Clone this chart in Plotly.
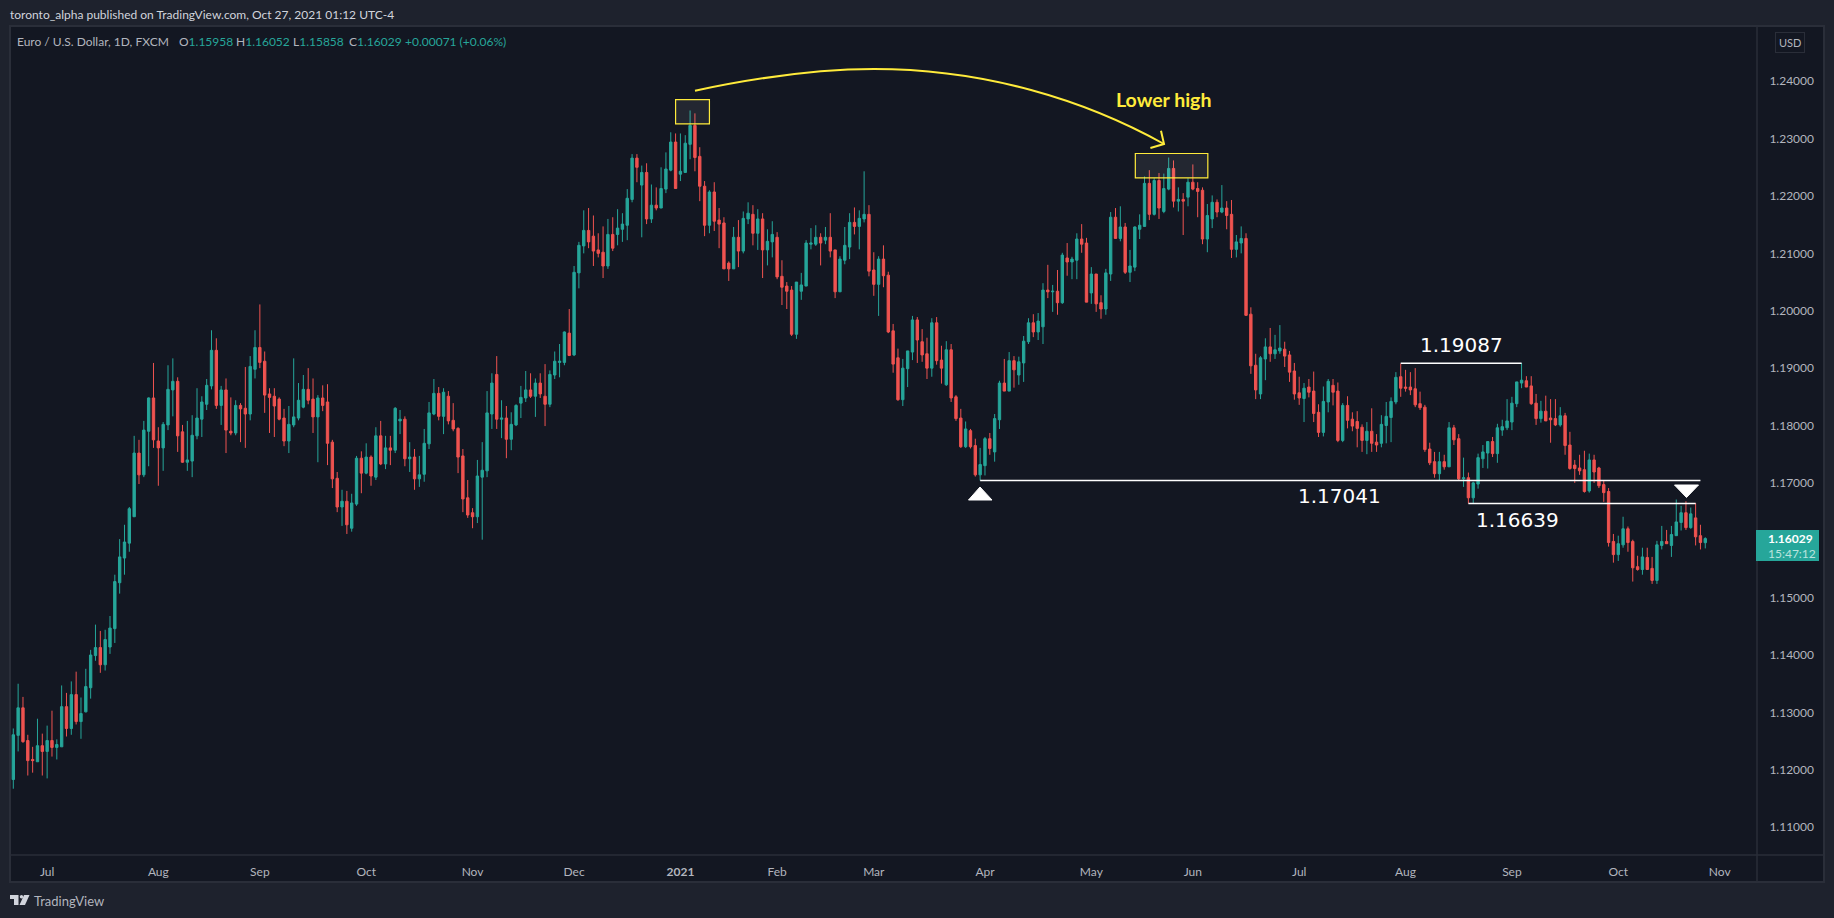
import plotly.graph_objects as go

opens = [
1.1183,1.1260,1.1308,1.1251,1.1218,1.1214,1.1242,1.1232,1.1251,1.1239,
1.1240,1.1310,1.1272,1.1331,1.1284,1.1301,1.1343,1.1399,1.1413,1.1383,
1.1414,1.1446,1.1526,1.1569,1.1595,1.1641,1.1752,1.1714,1.1790,1.1848,
1.1773,1.1761,1.1801,1.1862,1.1877,1.1789,1.1736,1.1738,1.1782,1.1811,
1.1837,1.1869,1.1931,1.1835,1.1862,1.1790,1.1787,1.1835,1.1830,1.1820,
1.1898,1.1936,1.1912,1.1855,1.1851,1.1846,1.1813,1.1773,1.1801,1.1813,
1.1832,1.1863,1.1846,1.1815,1.1848,1.1841,1.1771,1.1708,1.1658,1.1668,
1.1621,1.1663,1.1743,1.1717,1.1745,1.1710,1.1782,1.1733,1.1761,1.1757,
1.1808,1.1811,1.1742,1.1745,1.1707,1.1715,1.1768,1.1820,1.1856,1.1816,
1.1851,1.1809,1.1795,1.1747,1.1674,1.1648,1.1641,1.1710,1.1721,1.1820,
1.1889,1.1811,1.1813,1.1776,1.1801,1.1839,1.1848,1.1862,1.1851,1.1874,
1.1851,1.1837,1.1888,1.1910,1.1910,1.1961,1.1923,1.2066,1.2113,1.2140,
1.2130,1.2106,1.2102,1.2078,1.2133,1.2133,1.2142,1.2149,1.2194,1.2266,
1.2219,1.2241,1.2160,1.2184,1.2179,1.2212,1.2245,1.2294,1.2238,1.2241,
1.2290,1.2323,1.2269,1.2217,1.2149,1.2207,1.2158,1.2153,1.2083,1.2073,
1.2128,1.2104,1.2160,1.2168,1.2135,1.2160,1.2106,1.2120,1.2128,1.2060,
1.2043,1.2036,1.1959,1.2034,1.2043,1.2116,1.2116,1.2128,1.2123,1.2128,
1.2106,1.2033,1.2088,1.2111,1.2154,1.2147,1.2160,1.2168,1.2071,1.2046,
1.2090,1.2062,1.1965,1.1918,1.1845,1.1899,1.1928,1.1984,1.1946,1.1925,
1.1900,1.1979,1.1914,1.1871,1.1932,1.1850,1.1813,1.1763,1.1791,1.1765,
1.1714,1.1730,1.1777,1.1754,1.1810,1.1874,1.1860,1.1913,1.1888,1.1909,
1.1946,1.1979,1.1963,1.1972,1.2036,1.2033,1.2034,1.2014,1.2092,1.2085,
1.2088,1.2125,1.2118,1.2031,1.2064,1.2014,1.2003,1.2064,1.2163,1.2126,
1.2146,1.2067,1.2076,1.2142,1.2147,1.2222,1.2168,1.2227,1.2173,1.2212,
1.2248,1.2191,1.2194,1.2198,1.2224,1.2213,1.2210,1.2125,1.2160,1.2189,
1.2172,1.2179,1.2168,1.2107,1.2118,1.2126,1.1994,1.1905,1.1855,1.1916,
1.1937,1.1925,1.1930,1.1933,1.1923,1.1895,1.1857,1.1847,1.1867,1.1860,
1.1823,1.1788,1.1841,1.1870,1.1860,1.1774,1.1835,1.1811,1.1807,1.1797,
1.1774,1.1790,1.1771,1.1769,1.1800,1.1814,1.1841,1.1885,1.1867,1.1867,
1.1864,1.1838,1.1832,1.1759,1.1737,1.1716,1.1737,1.1728,1.1796,1.1777,
1.1707,1.1709,1.1674,1.1698,1.1742,1.1752,1.1772,1.1751,1.1792,1.1796,
1.1806,1.1838,1.1874,1.1878,1.1869,1.1839,1.1812,1.1825,1.1813,1.1812,
1.1801,1.1817,1.1766,1.1731,1.1726,1.1723,1.1686,1.1740,1.1726,1.1697,
1.1685,1.1598,1.1575,1.1592,1.1620,1.1598,1.1554,1.1549,1.1570,1.1551,
1.1530,1.1591,1.1598,1.1591,1.1608,1.1631,1.1648,1.1622,1.1639,1.1608,1.15958]

highs = [
1.1272,1.1350,1.1327,1.1261,1.1240,1.1289,1.1263,1.1277,1.1303,1.1253,
1.1347,1.1334,1.1354,1.1371,1.1326,1.1376,1.1409,1.1453,1.1442,1.1444,
1.1468,1.1540,1.1602,1.1627,1.1658,1.1782,1.1775,1.1808,1.1849,1.1909,
1.1797,1.1806,1.1905,1.1917,1.1884,1.1801,1.1808,1.1818,1.1865,1.1851,
1.1881,1.1966,1.1952,1.1869,1.1882,1.1849,1.1844,1.1839,1.1902,1.1921,
1.1966,1.2011,1.1929,1.1865,1.1865,1.1849,1.1829,1.1834,1.1917,1.1874,
1.1888,1.1900,1.1882,1.1853,1.1870,1.1872,1.1775,1.1719,1.1688,1.1686,
1.1681,1.1747,1.1755,1.1769,1.1748,1.1797,1.1808,1.1782,1.1782,1.1832,
1.1827,1.1816,1.1771,1.1759,1.1747,1.1794,1.1841,1.1881,1.1867,1.1865,
1.1860,1.1839,1.1797,1.1759,1.1705,1.1656,1.1740,1.1771,1.1860,1.1891,
1.1921,1.1844,1.1834,1.1823,1.1837,1.1869,1.1895,1.1891,1.1882,1.1891,
1.1907,1.1896,1.1929,1.1942,1.1964,1.2003,1.2078,1.2120,1.2175,1.2179,
1.2166,1.2135,1.2147,1.2160,1.2163,1.2177,1.2170,1.2212,1.2273,1.2273,
1.2253,1.2257,1.2220,1.2215,1.2250,1.2276,1.2311,1.2309,1.2309,1.2306,
1.2349,1.2344,1.2285,1.2226,1.2210,1.2224,1.2179,1.2163,1.2086,1.2146,
1.2158,1.2173,1.2189,1.2184,1.2177,1.2170,1.2142,1.2156,1.2137,1.2088,
1.2050,1.2043,1.2050,1.2066,1.2123,1.2144,1.2149,1.2135,1.2146,1.2170,
1.2106,1.2095,1.2146,1.2170,1.2180,1.2175,1.2243,1.2184,1.2102,1.2095,
1.2114,1.2068,1.1977,1.1934,1.1916,1.1930,1.1991,1.1989,1.1968,1.1953,
1.1987,1.1989,1.1939,1.1947,1.1942,1.1853,1.1829,1.1807,1.1794,1.1777,
1.1761,1.1780,1.1787,1.1820,1.1878,1.1916,1.1928,1.1921,1.1920,1.1956,
1.1987,1.1994,1.1996,1.2048,1.2080,1.2045,1.2071,1.2101,1.2118,1.2094,
1.2135,1.2151,1.2127,1.2076,1.2064,1.2027,1.2073,1.2172,1.2179,1.2182,
1.2153,1.2106,1.2147,1.2168,1.2234,1.2245,1.2231,1.2240,1.2239,1.2267,
1.2262,1.2215,1.2205,1.2231,1.2255,1.2224,1.2215,1.2186,1.2201,1.2194,
1.2219,1.2191,1.2193,1.2132,1.2147,1.2135,1.2006,1.1925,1.1921,1.1952,
1.1970,1.1958,1.1975,1.1946,1.1930,1.1909,1.1885,1.1874,1.1881,1.1894,
1.1837,1.1868,1.1881,1.1881,1.1875,1.1839,1.1851,1.1823,1.1825,1.1802,
1.1806,1.1830,1.1785,1.1818,1.1841,1.1849,1.1893,1.1908,1.1897,1.1893,
1.1900,1.1859,1.1836,1.1770,1.1754,1.1754,1.1749,1.1806,1.1801,1.1785,
1.1744,1.1718,1.1702,1.1751,1.1766,1.1773,1.1780,1.1803,1.1810,1.1846,
1.1850,1.1876,1.1909,1.1886,1.1886,1.1855,1.1843,1.1852,1.1846,1.1846,
1.1832,1.1822,1.1789,1.1740,1.1749,1.1756,1.1751,1.1749,1.1728,1.1705,
1.1691,1.1611,1.1608,1.1641,1.1624,1.1601,1.1573,1.1587,1.1587,1.1571,
1.1599,1.1625,1.1618,1.1625,1.1671,1.1660,1.1668,1.1657,1.1665,1.1627,1.16052]

lows = [
1.1167,1.1232,1.1247,1.1190,1.1195,1.1214,1.1190,1.1185,1.1223,1.1218,
1.1240,1.1258,1.1261,1.1279,1.1254,1.1300,1.1324,1.1390,1.1369,1.1373,
1.1402,1.1421,1.1507,1.1540,1.1580,1.1641,1.1698,1.1710,1.1729,1.1761,
1.1695,1.1721,1.1792,1.1816,1.1754,1.1735,1.1721,1.1710,1.1776,1.1780,
1.1827,1.1863,1.1829,1.1801,1.1752,1.1783,1.1783,1.1771,1.1761,1.1809,
1.1882,1.1900,1.1822,1.1787,1.1780,1.1809,1.1764,1.1752,1.1797,1.1809,
1.1830,1.1837,1.1787,1.1736,1.1825,1.1731,1.1691,1.1649,1.1625,1.1611,
1.1615,1.1660,1.1682,1.1715,1.1695,1.1705,1.1731,1.1724,1.1731,1.1752,
1.1785,1.1729,1.1719,1.1688,1.1693,1.1702,1.1759,1.1818,1.1809,1.1785,
1.1802,1.1790,1.1717,1.1649,1.1639,1.1621,1.1630,1.1601,1.1710,1.1794,
1.1794,1.1778,1.1743,1.1757,1.1799,1.1813,1.1841,1.1848,1.1815,1.1848,
1.1799,1.1832,1.1881,1.1884,1.1905,1.1921,1.1921,1.2039,1.2100,1.2109,
1.2078,1.2093,1.2057,1.2073,1.2104,1.2114,1.2120,1.2123,1.2189,1.2224,
1.2128,1.2151,1.2153,1.2175,1.2179,1.2205,1.2243,1.2213,1.2226,1.2240,
1.2264,1.2243,1.2191,1.2130,1.2135,1.2139,1.2109,1.2073,1.2052,1.2073,
1.2076,1.2100,1.2151,1.2114,1.2106,1.2057,1.2079,1.2093,1.2055,1.2010,
1.2003,1.1956,1.1951,1.2019,1.2043,1.2107,1.2113,1.2079,1.2116,1.2093,
1.2022,1.2033,1.2081,1.2090,1.2133,1.2107,1.2154,1.2060,1.2026,1.1991,
1.2041,1.1961,1.1892,1.1843,1.1834,1.1867,1.1914,1.1909,1.1911,1.1881,
1.1885,1.1906,1.1873,1.1869,1.1841,1.1808,1.1761,1.1761,1.1760,1.1711,
1.1704,1.1713,1.1749,1.1737,1.1794,1.1860,1.1860,1.1866,1.1871,1.1876,
1.1942,1.1954,1.1949,1.1942,1.2022,1.1998,1.1993,1.2012,1.2061,1.2055,
1.2055,1.2101,1.2015,1.2012,1.1998,1.1986,1.1993,1.2052,1.2126,1.2121,
1.2064,1.2050,1.2069,1.2125,1.2147,1.2158,1.2166,1.2160,1.2170,1.2210,
1.2180,1.2173,1.2132,1.2182,1.2210,1.2163,1.2116,1.2102,1.2144,1.2163,
1.2170,1.2142,1.2092,1.2093,1.2100,1.1991,1.1890,1.1846,1.1846,1.1879,
1.1911,1.1916,1.1925,1.1902,1.1876,1.1845,1.1836,1.1806,1.1849,1.1806,
1.1780,1.1781,1.1823,1.1835,1.1771,1.1771,1.1795,1.1790,1.1762,1.1754,
1.1750,1.1754,1.1754,1.1762,1.1769,1.1771,1.1837,1.1850,1.1859,1.1853,
1.1832,1.1827,1.1754,1.1731,1.1709,1.1705,1.1723,1.1728,1.1766,1.1705,
1.1693,1.1664,1.1664,1.1690,1.1726,1.1725,1.1745,1.1735,1.1782,1.1792,
1.1792,1.1832,1.1865,1.1867,1.1836,1.1801,1.1805,1.1808,1.1770,1.1799,
1.1798,1.1749,1.1723,1.1700,1.1714,1.1683,1.1683,1.1700,1.1691,1.1667,
1.1589,1.1561,1.1564,1.1587,1.1580,1.1528,1.1547,1.1540,1.1549,1.1524,
1.1524,1.1584,1.1594,1.1571,1.1608,1.1617,1.1618,1.1620,1.1591,1.1584,1.15858]

closes = [
1.1261,1.1308,1.1249,1.1216,1.1216,1.1242,1.1232,1.1251,1.1239,1.1244,
1.1310,1.1272,1.1331,1.1284,1.1298,1.1345,1.1400,1.1413,1.1383,1.1427,
1.1447,1.1528,1.1571,1.1597,1.1655,1.1752,1.1714,1.1792,1.1848,1.1775,
1.1761,1.1802,1.1863,1.1877,1.1782,1.1736,1.1740,1.1783,1.1813,1.1841,
1.1870,1.1931,1.1835,1.1862,1.1792,1.1787,1.1835,1.1829,1.1820,1.1903,
1.1936,1.1910,1.1853,1.1849,1.1834,1.1811,1.1773,1.1802,1.1815,1.1844,
1.1863,1.1844,1.1815,1.1848,1.1835,1.1769,1.1707,1.1658,1.1668,1.1627,
1.1665,1.1743,1.1717,1.1745,1.1712,1.1782,1.1733,1.1761,1.1757,1.1830,
1.1811,1.1742,1.1745,1.1707,1.1714,1.1769,1.1822,1.1856,1.1816,1.1858,
1.1808,1.1794,1.1745,1.1672,1.1644,1.1641,1.1712,1.1722,1.1822,1.1874,
1.1811,1.1813,1.1776,1.1802,1.1835,1.1849,1.1862,1.1851,1.1874,1.1855,
1.1837,1.1889,1.1912,1.1912,1.1963,1.1922,1.2067,1.2114,1.2140,1.2120,
1.2104,1.2100,1.2078,1.2133,1.2109,1.2144,1.2151,1.2196,1.2266,1.2250,
1.2241,1.2160,1.2184,1.2179,1.2213,1.2247,1.2294,1.2213,1.2243,1.2292,
1.2323,1.2267,1.2217,1.2149,1.2207,1.2156,1.2151,1.2073,1.2073,1.2128,
1.2104,1.2161,1.2170,1.2135,1.2160,1.2106,1.2121,1.2133,1.2059,1.2041,
1.2034,1.1959,1.2050,1.2045,1.2118,1.2118,1.2128,1.2118,1.2128,1.2104,
1.2033,1.2090,1.2114,1.2154,1.2147,1.2161,1.2168,1.2069,1.2046,1.2090,
1.2061,1.1963,1.1907,1.1845,1.1900,1.1930,1.1984,1.1949,1.1923,1.1900,
1.1979,1.1913,1.1900,1.1932,1.1848,1.1812,1.1763,1.1794,1.1763,1.1714,
1.1732,1.1777,1.1760,1.1812,1.1874,1.1860,1.1913,1.1897,1.1911,1.1947,
1.1979,1.1963,1.1982,1.2036,1.2033,1.2034,1.2014,1.2097,1.2085,1.2090,
1.2125,1.2116,1.2015,1.2064,1.2012,1.2003,1.2066,1.2163,1.2126,1.2146,
1.2067,1.2078,1.2146,1.2149,1.2222,1.2168,1.2227,1.2179,1.2213,1.2248,
1.2191,1.2194,1.2191,1.2224,1.2212,1.2208,1.2125,1.2166,1.2189,1.2172,
1.2179,1.2166,1.2107,1.2120,1.2126,1.1992,1.1904,1.1862,1.1918,1.1937,
1.1925,1.1932,1.1935,1.1921,1.1893,1.1855,1.1848,1.1865,1.1858,1.1821,
1.1788,1.1842,1.1877,1.1858,1.1774,1.1835,1.1809,1.1799,1.1795,1.1774,
1.1790,1.1769,1.1766,1.1802,1.1816,1.1842,1.1884,1.1865,1.1865,1.1862,
1.1836,1.1831,1.1758,1.1735,1.1716,1.1737,1.1728,1.1796,1.1775,1.1707,
1.1709,1.1674,1.1700,1.1744,1.1754,1.1772,1.1751,1.1796,1.1798,1.1808,
1.1839,1.1876,1.1879,1.1867,1.1838,1.1812,1.1825,1.1808,1.1810,1.1801,
1.1817,1.1765,1.1725,1.1725,1.1721,1.1685,1.1740,1.1719,1.1695,1.1683,
1.1596,1.1575,1.1594,1.1620,1.1596,1.1552,1.1549,1.1571,1.1549,1.1530,
1.1592,1.1598,1.1594,1.1610,1.1632,1.1648,1.1622,1.1646,1.1606,1.1596,1.16029]

sessions = list(range(len(closes)))

month_labels = ["Jul","Aug","Sep","Oct","Nov","Dec","<b>2021</b>","Feb","Mar","Apr","May","Jun","Jul","Aug","Sep","Oct","Nov"]
month_sessions = [7,30,51,73,95,116,138,158,178,201,223,244,266,288,310,332,353]
price_ticks = [1.11,1.12,1.13,1.14,1.15,1.16,1.17,1.18,1.19,1.20,1.21,1.22,1.23,1.24]

W, H = 1834, 918
L, R, T, B = 11, 1757, 27, 855
UI = "Lato"
GREEN, RED, YELLOW = "#26a69a", "#ef5350", "#ffeb3b"
OUTER, PANE, EDGE = "#1e222d", "#131722", "#2a2e39"

def px(x): return (x - L) / (R - L)
def py(y): return (B - y) / (B - T)

fig = go.Figure(go.Candlestick(
    x=sessions, open=opens, high=highs, low=lows, close=closes,
    increasing=dict(line=dict(color=GREEN, width=1), fillcolor=GREEN),
    decreasing=dict(line=dict(color=RED, width=1), fillcolor=RED),
    whiskerwidth=0, hoverinfo="skip", showlegend=False,
))

shapes = []
# frame around the chart, axis separators
shapes.append(dict(type="rect", xref="paper", yref="paper", layer="below",
                   x0=px(10), x1=px(1824), y0=py(26), y1=py(882),
                   fillcolor=PANE, line=dict(color=EDGE, width=2)))
for a, b, c, d in [(R, 26, R, 882), (10, B, 1824, B)]:
    shapes.append(dict(type="line", xref="paper", yref="paper",
                       x0=px(a), y0=py(b), x1=px(c), y1=py(d),
                       line=dict(color=EDGE, width=1.5)))

# yellow boxes (session, price)
for s0, s1, p0, p1 in [(137, 144, 1.23255, 1.2368), (232.1, 247.1, 1.22315, 1.2274)]:
    shapes.append(dict(type="rect", x0=s0, x1=s1, y0=p0, y1=p1,
                       fillcolor="rgba(255,255,255,0.07)", line=dict(color=YELLOW, width=1.2)))

# white level lines (session, session, price)
for s0, s1, p in [(200, 349, 1.17041), (301, 348, 1.16639), (287, 312, 1.19087)]:
    shapes.append(dict(type="line", x0=s0, x1=s1, y0=p, y1=p, line=dict(color="#ffffff", width=1.5)))

# arc + arrow head
arc = (f"M {px(695)} {py(90.7)} C {px(750)} {py(79)} {px(815)} {py(69)} {px(874)} {py(69)} "
       f"C {px(985)} {py(69)} {px(1085)} {py(100)} {px(1164)} {py(144)}")
head = f"M {px(1161)} {py(130.7)} L {px(1164)} {py(144)} L {px(1150.4)} {py(148)}"
for path in (arc, head):
    shapes.append(dict(type="path", xref="paper", yref="paper", path=path,
                       line=dict(color=YELLOW, width=2)))

# white triangles
up = f"M {px(968.5)} {py(500)} L {px(980)} {py(487)} L {px(992)} {py(500)} Z"
down = f"M {px(1674.5)} {py(485)} L {px(1698.5)} {py(485)} L {px(1686.5)} {py(497.5)} Z"
for path in (up, down):
    shapes.append(dict(type="path", xref="paper", yref="paper", path=path,
                       fillcolor="#ffffff", line=dict(color="#ffffff", width=1)))

# last price tag
shapes.append(dict(type="rect", xref="paper", yref="paper",
                   x0=px(1756), x1=px(1819), y0=py(530), y1=py(561),
                   fillcolor=GREEN, line=dict(width=0)))

# TradingView logo
logo = [
    f"M {px(10)} {py(895)} L {px(18.5)} {py(895)} L {px(18.5)} {py(905)} L {px(14)} {py(905)} L {px(14)} {py(899)} L {px(10)} {py(899)} Z",
    f"M {px(24)} {py(895)} L {px(29.5)} {py(895)} L {px(25)} {py(905)} L {px(19.5)} {py(905)} Z",
]
for path in logo:
    shapes.append(dict(type="path", xref="paper", yref="paper", path=path,
                       fillcolor="#d1d4dc", line=dict(width=0)))
shapes.append(dict(type="circle", xref="paper", yref="paper",
                   x0=px(19.8), x1=px(23.2), y0=py(895), y1=py(898.4),
                   fillcolor="#d1d4dc", line=dict(width=0)))

def note(x, y, text, size=12, color="#d1d4dc", anchor="left", family=UI, **kw):
    return dict(xref="paper", yref="paper", x=px(x), y=py(y), text=text, showarrow=False,
                xanchor=anchor, yanchor="middle", font=dict(family=family, size=size, color=color),
                align="left", **kw)

def teal(t): return f'<span style="color:{GREEN}">{t}</span>'

legend_chunks = [
    (15, "Euro / U.S. Dollar, 1D, FXCM"),
    (177, "O" + teal("1.15958")),
    (234, "H" + teal("1.16052")),
    (291, "L" + teal("1.15858")),
    (347, "C" + teal("1.16029")),
    (403, teal("+0.00071 (+0.06%)")),
]

annotations = [
    note(8, 15, "toronto_alpha published on TradingView.com, Oct 27, 2021 01:12 UTC-4", 12, "#d1d4dc"),
    note(32, 901, "TradingView", 13, "#b2b5be"),
    note(1790, 43, "USD", 11, "#b2b5be", anchor="center", bordercolor=EDGE, borderpad=3, borderwidth=1),
    note(1766, 538, "<b>1.16029</b>", 12, "#ffffff"),
    note(1766, 553, "15:47:12", 12, "#b9e3de"),
    note(1163, 100, "<b>Lower high</b>", 19.5, YELLOW, anchor="center"),
    note(1461.5, 345, "1.19087", 20, "#ffffff", anchor="center", family="DejaVu Sans"),
    note(1339.5, 496, "1.17041", 20, "#ffffff", anchor="center", family="DejaVu Sans"),
    note(1517, 520, "1.16639", 20, "#ffffff", anchor="center", family="DejaVu Sans"),
] + [note(x, 42, t, 12, "#b2b5be") for x, t in legend_chunks]

fig.update_layout(
    width=W, height=H, autosize=False,
    margin=dict(l=L, r=W - R, t=T, b=H - B, pad=0),
    paper_bgcolor=OUTER, plot_bgcolor=PANE,
    font=dict(family=UI, size=12, color="#b2b5be"),
    shapes=shapes, annotations=annotations, showlegend=False,
    xaxis=dict(type="linear", range=[-0.476, 360.7], rangeslider=dict(visible=False),
               tickmode="array", tickvals=month_sessions, ticktext=month_labels,
               showgrid=False, zeroline=False, showline=False,
               ticks="outside", ticklen=6, tickcolor="rgba(0,0,0,0)", tickfont=dict(size=12, color="#b2b5be")),
    yaxis=dict(side="right", range=[1.10515, 1.24945],
               tickmode="array", tickvals=price_ticks, tickformat=".5f",
               showgrid=False, zeroline=False, showline=False,
               ticks="outside", ticklen=9, tickcolor="rgba(0,0,0,0)", tickfont=dict(size=12, color="#b2b5be")),
)

fig.write_html("out.html", config=dict(displayModeBar=False),
               post_script="document.body.style.margin='0';document.body.style.overflow='hidden';")
